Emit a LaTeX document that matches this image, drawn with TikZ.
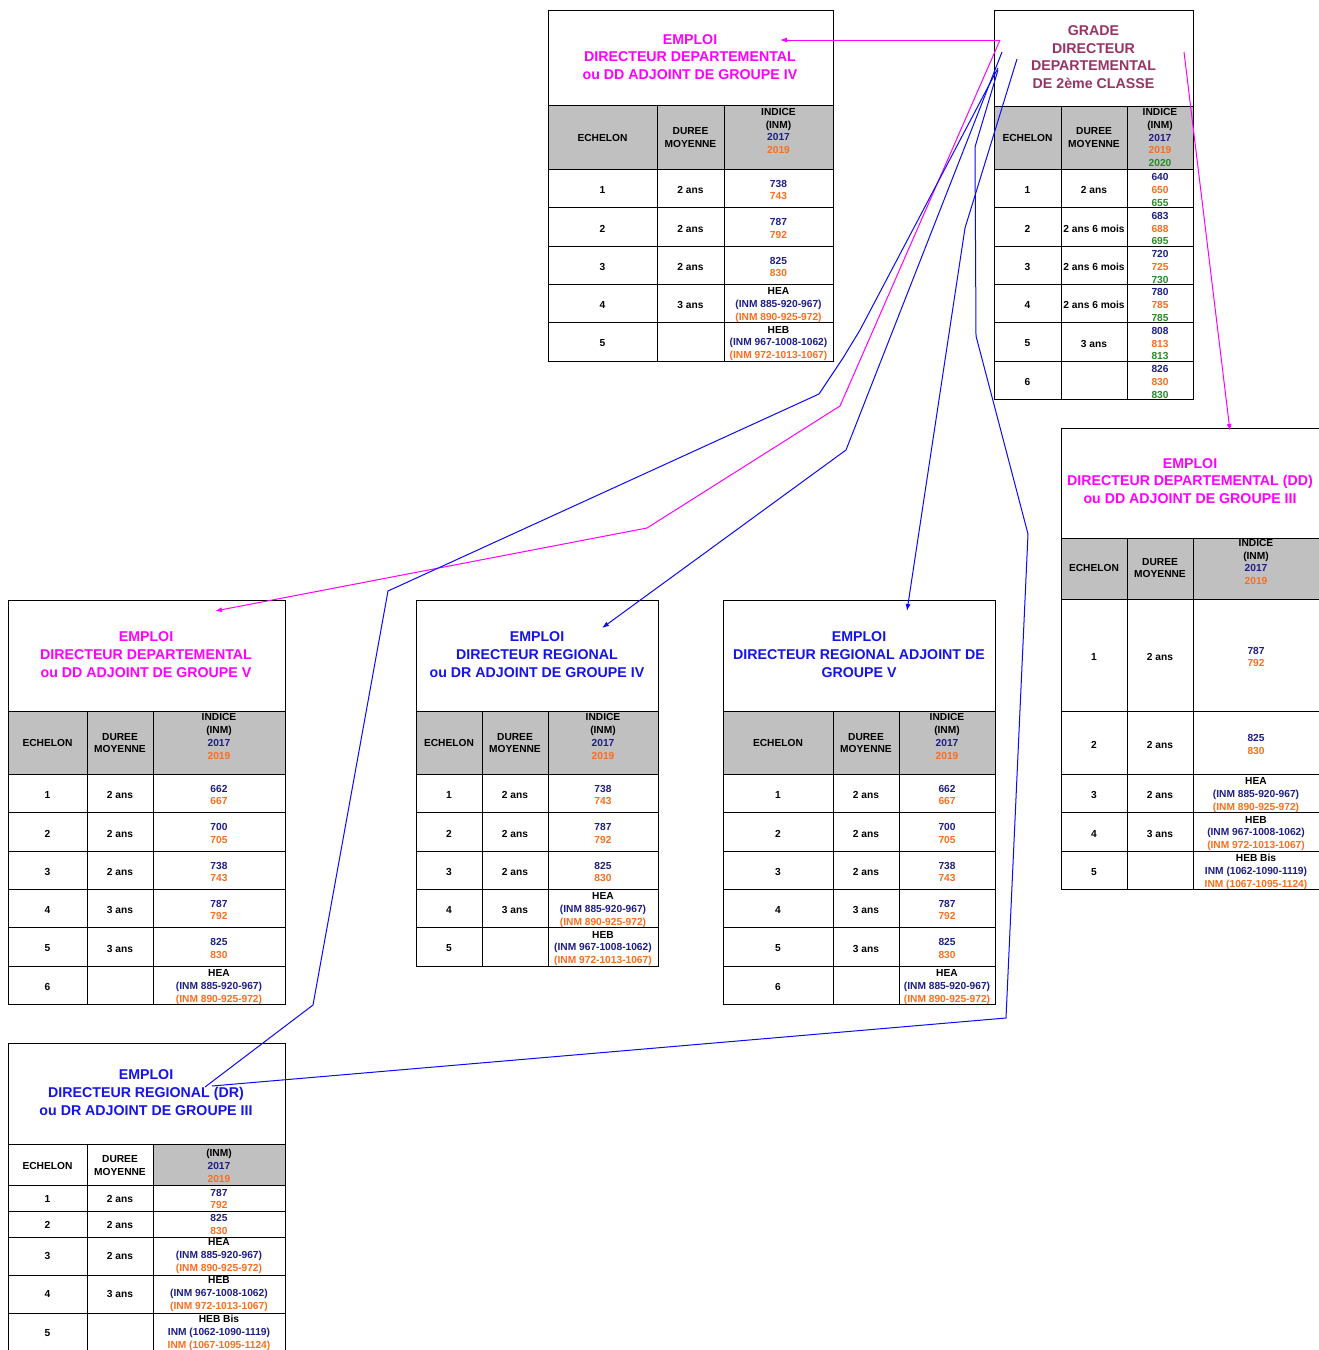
\documentclass[tikz,border=0pt]{standalone}
\usepackage{fontspec}
\setmainfont{Liberation Sans}
\usepackage{tikz}
\usetikzlibrary{arrows.meta,calc,positioning}
\definecolor{ddpink}{RGB}{255,0,255}
\definecolor{drblue}{RGB}{20,20,235}
\definecolor{linkblue}{RGB}{10,10,250}
\definecolor{gradec}{RGB}{153,51,102}
\definecolor{c17}{RGB}{30,30,135}
\definecolor{c19}{RGB}{250,110,30}
\definecolor{c20}{RGB}{40,140,40}
\definecolor{hdrgray}{RGB}{192,192,192}
\tikzset{
    x=1pt,y=-1pt,
    tbl/.style={line width=0.9pt,black},
    hdr/.style={fill=hdrgray},
    cell/.style={align=center,inner sep=0pt,yshift=-2pt,font=\bfseries\fontsize{10.2}{12.9}\selectfont},
    ttl/.style={align=center,inner sep=0pt,font=\bfseries\fontsize{14.2}{17.7}\selectfont},
    ddlink/.style={line width=1pt,ddpink},
    drlink/.style={line width=1pt,linkblue},
    tip/.style={-{Latex[length=7pt,width=5pt]}}
}
% cell contents
\newcommand{\vv}[2]{\textcolor{c17}{#1}\\\textcolor{c19}{#2}}
\newcommand{\vvv}[3]{\textcolor{c17}{#1}\\\textcolor{c19}{#2}\\\textcolor{c20}{#3}}
\newcommand{\hx}[3]{#1\\\textcolor{c17}{#2}\\\textcolor{c19}{#3}}
\newcommand{\indice}{INDICE\\(INM)\\\textcolor{c17}{2017}\\\textcolor{c19}{2019}}
% table lines: left, col1, col2, right, top, header top, header bottom, row lines, bottom
\newcommand{\tablegrid}[9]{%
  \draw[tbl] (#1,#5) rectangle (#4,#9);
  \draw[tbl] (#1,#6) -- (#4,#6) (#1,#7) -- (#4,#7);
  \draw[tbl] (#2,#6) -- (#2,#9) (#3,#6) -- (#3,#9);
  \foreach \yy in {#8} {\draw[tbl] (#1,\yy) -- (#4,\yy);}
}
\newcommand{\setcols}[3]{\def\colA{#1}\def\colB{#2}\def\colC{#3}}
\newcommand{\trow}[5]{%
  \node[cell] (#1-e) at (\colA,#2) {#3};
  \node[cell] (#1-d) at (\colB,#2) {#4};
  \node[cell] (#1-i) at (\colC,#2) {#5};
}
% name, y of labels, y of indice, indice text
\newcommand{\thead}[4]{%
  \node[cell] (#1-he) at (\colA,#2) {ECHELON};
  \node[cell] (#1-hd) at (\colB,#2) {DUREE\\MOYENNE};
  \node[cell] (#1-hi) at (\colC,#3) {#4};
}

\begin{document}
\begin{tikzpicture}
    \useasboundingbox[fill=white] (0,0) rectangle (1319,1350);
    % Grade
    \fill[hdr] (994,106) rectangle (1193,169);
    \tablegrid{994}{1061}{1127}{1193}{10}{106}{169}{207,246,284,322,361}{399}
    \node[ttl,text=gradec] (grade) at (1093.5,57) {GRADE\\DIRECTEUR\\DEPARTEMENTAL\\DE 2ème CLASSE};
    \setcols{1027.5}{1094}{1160}
    \thead{G}{135.5}{135.5}{INDICE\\(INM)\\\textcolor{c17}{2017}\\\textcolor{c19}{2019}\\\textcolor{c20}{2020}}
    \trow{G1}{188}{1}{2 ans}{\vvv{640}{650}{655}}
    \trow{G2}{226.5}{2}{2 ans 6 mois}{\vvv{683}{688}{695}}
    \trow{G3}{265}{3}{2 ans 6 mois}{\vvv{720}{725}{730}}
    \trow{G4}{303}{4}{2 ans 6 mois}{\vvv{780}{785}{785}}
    \trow{G5}{341.5}{5}{3 ans}{\vvv{808}{813}{813}}
    \trow{G6}{380}{6}{}{\vvv{826}{830}{830}}

    % Emploi DD groupe IV
    \fill[hdr] (548,105) rectangle (833,169);
    \tablegrid{548}{657}{724}{833}{10}{105}{169}{207,246,284,322}{361}
    \node[ttl,text=ddpink] (ddIV) at (690,57) {EMPLOI\\DIRECTEUR DEPARTEMENTAL\\ou DD ADJOINT DE GROUPE IV};
    \setcols{602.5}{690.5}{778.5}
    \thead{A}{135.5}{129}{\indice}
    \trow{A1}{188}{1}{2 ans}{\vv{738}{743}}
    \trow{A2}{226.5}{2}{2 ans}{\vv{787}{792}}
    \trow{A3}{265}{3}{2 ans}{\vv{825}{830}}
    \trow{A4}{303}{4}{3 ans}{\hx{HEA}{(INM 885-920-967)}{(INM 890-925-972)}}
    \trow{A5}{341.5}{5}{}{\hx{HEB}{(INM 967-1008-1062)}{(INM 972-1013-1067)}}

    % Emploi DD groupe III
    \fill[hdr] (1061,538) rectangle (1320,599);
    \tablegrid{1061}{1127}{1193}{1320}{428}{538}{599}{711,774,812,851}{889}
    \node[ttl,text=ddpink] (ddIII) at (1190,481) {EMPLOI\\DIRECTEUR DEPARTEMENTAL (DD)\\ou DD ADJOINT DE GROUPE III};
    \setcols{1094}{1160}{1256}
    \thead{R}{566}{560}{\indice}
    \trow{R1}{655}{1}{2 ans}{\vv{787}{792}}
    \trow{R2}{742.5}{2}{2 ans}{\vv{825}{830}}
    \trow{R3}{793}{3}{2 ans}{\hx{HEA}{(INM 885-920-967)}{(INM 890-925-972)}}
    \trow{R4}{831.5}{4}{3 ans}{\hx{HEB}{(INM 967-1008-1062)}{(INM 972-1013-1067)}}
    \trow{R5}{870}{5}{}{\hx{HEB Bis}{INM (1062-1090-1119)}{INM (1067-1095-1124)}}

    % Emploi DD groupe V
    \fill[hdr] (8,711) rectangle (285,774);
    \tablegrid{8}{87}{153}{285}{600}{711}{774}{812,851,889,927,966}{1004}
    \node[ttl,text=ddpink] (ddV) at (146,654.5) {EMPLOI\\DIRECTEUR DEPARTEMENTAL\\ou DD ADJOINT DE GROUPE V};
    \setcols{47.5}{120}{219}
    \thead{L}{741}{734.5}{\indice}
    \trow{L1}{793}{1}{2 ans}{\vv{662}{667}}
    \trow{L2}{831.5}{2}{2 ans}{\vv{700}{705}}
    \trow{L3}{870}{3}{2 ans}{\vv{738}{743}}
    \trow{L4}{908}{4}{3 ans}{\vv{787}{792}}
    \trow{L5}{946.5}{5}{3 ans}{\vv{825}{830}}
    \trow{L6}{985}{6}{}{\hx{HEA}{(INM 885-920-967)}{(INM 890-925-972)}}

    % Emploi DR groupe IV
    \fill[hdr] (416,711) rectangle (658,774);
    \tablegrid{416}{482}{548}{658}{600}{711}{774}{812,851,889,927}{966}
    \node[ttl,text=drblue] (drIV) at (537,654.5) {EMPLOI\\DIRECTEUR REGIONAL\\ou DR ADJOINT DE GROUPE IV};
    \setcols{449}{515}{603}
    \thead{M}{741}{734.5}{\indice}
    \trow{M1}{793}{1}{2 ans}{\vv{738}{743}}
    \trow{M2}{831.5}{2}{2 ans}{\vv{787}{792}}
    \trow{M3}{870}{3}{2 ans}{\vv{825}{830}}
    \trow{M4}{908}{4}{3 ans}{\hx{HEA}{(INM 885-920-967)}{(INM 890-925-972)}}
    \trow{M5}{946.5}{5}{}{\hx{HEB}{(INM 967-1008-1062)}{(INM 972-1013-1067)}}

    % Emploi DR adjoint groupe V
    \fill[hdr] (723,711) rectangle (995,774);
    \tablegrid{723}{833}{899}{995}{600}{711}{774}{812,851,889,927,966}{1004}
    \node[ttl,text=drblue] (drV) at (859,654.5) {EMPLOI\\DIRECTEUR REGIONAL ADJOINT DE\\GROUPE V};
    \setcols{778}{866}{947}
    \thead{N}{741}{734.5}{\indice}
    \trow{N1}{793}{1}{2 ans}{\vv{662}{667}}
    \trow{N2}{831.5}{2}{2 ans}{\vv{700}{705}}
    \trow{N3}{870}{3}{2 ans}{\vv{738}{743}}
    \trow{N4}{908}{4}{3 ans}{\vv{787}{792}}
    \trow{N5}{946.5}{5}{3 ans}{\vv{825}{830}}
    \trow{N6}{985}{6}{}{\hx{HEA}{(INM 885-920-967)}{(INM 890-925-972)}}

    % Emploi DR groupe III
    \fill[hdr] (153,1144) rectangle (285,1185);
    \tablegrid{8}{87}{153}{285}{1043}{1144}{1185}{1211,1237,1275,1313}{1356}
    \node[ttl,text=drblue] (drIII) at (146,1092.5) {EMPLOI\\DIRECTEUR REGIONAL (DR)\\ou DR ADJOINT DE GROUPE III};
    \setcols{47.5}{120}{219}
    \thead{B}{1163.5}{1163.5}{(INM)\\\textcolor{c17}{2017}\\\textcolor{c19}{2019}}
    \trow{B1}{1197}{1}{2 ans}{\vv{787}{792}}
    \trow{B2}{1222.5}{2}{2 ans}{\vv{825}{830}}
    \trow{B3}{1254}{3}{2 ans}{\hx{HEA}{(INM 885-920-967)}{(INM 890-925-972)}}
    \trow{B4}{1292}{4}{3 ans}{\hx{HEB}{(INM 967-1008-1062)}{(INM 972-1013-1067)}}
    \trow{B5}{1331}{5}{}{\hx{HEB Bis}{INM (1062-1090-1119)}{INM (1067-1095-1124)}}

    % link ends
    \coordinate (gm) at (1000,40);
    \coordinate (gm2) at (1184,52);
    \coordinate (gb1) at (1002,52);
    \coordinate (gb2) at (998,68);
    \coordinate (gb3) at (1017,59);
    \coordinate (gb4) at (998,70);
    \coordinate (ddIV-in) at (780,40);
    \coordinate (ddIII-in) at (1230,431);
    \coordinate (ddV-in) at (215,611);
    \coordinate (drIV-in) at (602,628);
    \coordinate (drV-in) at (907,611);
    \coordinate (drIII-in) at (205,1087);
    \coordinate (drIII-in2) at (212,1086);
    % grade to DD
    \draw[ddlink,tip] (gm) -- (ddIV-in);
    \draw[ddlink,tip] (gm2) -- (ddIII-in);
    \draw[ddlink,tip] (gm) -- (840,406) -- (647,528) -- (ddV-in);
    % grade to DR
    \draw[drlink,tip] (gb1) -- (846,450) -- (drIV-in);
    \draw[drlink,tip] (gb3) -- (965,228) -- (drV-in);
    \draw[drlink] (gb2) -- (860,330) -- (843,358) -- (819,394) -- (388,591) -- (313,1005) -- (drIII-in);
    \draw[drlink] (gb4) -- (975,147) -- (976,336) -- (1028,534) -- (1006,1018) -- (drIII-in2);
\end{tikzpicture}
\end{document}
